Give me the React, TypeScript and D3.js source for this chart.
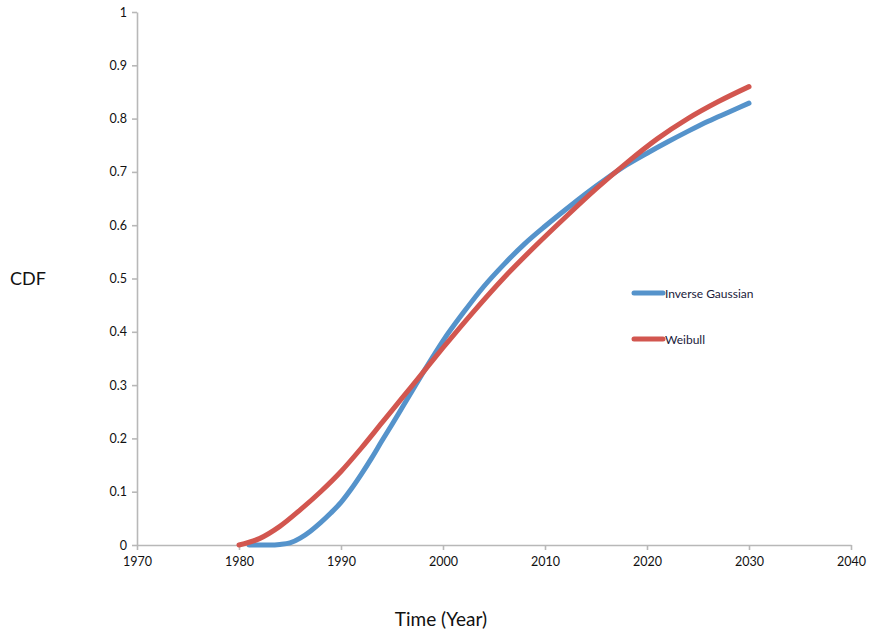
import React from 'react';
import { axisBottom, axisLeft, curveMonotoneX, line, scaleLinear, select } from 'd3';

const years = [1970, 1980, 1990, 2000, 2010, 2020, 2030, 2040];
const cdfTicks = [0, 0.1, 0.2, 0.3, 0.4, 0.5, 0.6, 0.7, 0.8, 0.9, 1];

const weibullYears = [1980, 1982, 1984, 1986, 1988, 1990, 1992, 1994, 1996, 1998, 2000, 2003, 2006, 2009, 2012, 2015, 2018, 2021, 2024, 2027, 2030];
const weibullCdf = [0, 0.012, 0.035, 0.066, 0.1, 0.138, 0.182, 0.229, 0.276, 0.323, 0.37, 0.438, 0.502, 0.56, 0.615, 0.668, 0.717, 0.762, 0.8, 0.832, 0.86];

const gaussYears = [1981, 1983, 1984, 1985, 1986, 1987, 1988, 1989, 1990, 1991, 1992, 1993, 1994, 1995, 1996, 1997, 1998, 1999, 2000, 2002, 2004, 2006, 2008, 2010, 2012, 2014, 2016, 2018, 2020, 2022, 2024, 2026, 2028, 2030];
const gaussCdf = [0, 0, 0.001, 0.004, 0.013, 0.026, 0.042, 0.06, 0.08, 0.105, 0.133, 0.163, 0.195, 0.226, 0.258, 0.29, 0.322, 0.353, 0.383, 0.436, 0.485, 0.527, 0.565, 0.598, 0.629, 0.659, 0.687, 0.713, 0.735, 0.756, 0.776, 0.795, 0.812, 0.829];

const seriesNames = ['Inverse Gaussian', 'Weibull'];
const seriesColors = ['#5593cb', '#d2564f'];

const FONT = 'Lato, "Open Sans", sans-serif';

const App = () => {
    const svgRef = React.useRef(null);
    const width = 869;
    const height = 635;
    const marginLeft = 137;
    const marginTop = 12;
    const marginRight = 18;
    const marginBottom = 90;
    const innerWidth = width - marginLeft - marginRight;
    const innerHeight = height - marginTop - marginBottom;

    React.useEffect(() => {
        const svgEl = select(svgRef.current);
        svgEl.selectAll('*').remove();

        const gEl = svgEl
            .append('g')
            .attr('transform', `translate(${marginLeft},${marginTop})`);

        const x = scaleLinear().domain([1970, 2040]).range([0, innerWidth]);
        const y = scaleLinear().domain([0, 1]).range([innerHeight, 0]);

        // X Axis
        const xAxisGroup = gEl
            .append('g')
            .attr('transform', `translate(0,${innerHeight})`)
            .call(axisBottom(x).tickValues(years).tickFormat((d) => String(d)).tickSizeInner(5).tickSizeOuter(0));
        xAxisGroup.selectAll('text')
            .attr('font-family', FONT)
            .attr('font-size', 12.5)
            .attr('fill', '#111')
            .attr('dy', '1.05em');

        // Y Axis
        const yAxisGroup = gEl
            .append('g')
            .call(axisLeft(y).tickValues(cdfTicks).tickFormat((d) => String(+d.toFixed(1))).tickSizeInner(5).tickSizeOuter(0));
        yAxisGroup.selectAll('text')
            .attr('font-family', FONT)
            .attr('font-size', 12.5)
            .attr('fill', '#111')
            .attr('x', -10);

        svgEl.selectAll('.domain, .tick line')
            .attr('stroke', '#b8b8b8')
            .attr('stroke-width', 1.6);

        // Lines
        const path = line()
            .x((d) => x(d[0]))
            .y((d) => y(d[1]))
            .curve(curveMonotoneX);

        const series = [
            gaussYears.map((yr, i) => [yr, gaussCdf[i]]),
            weibullYears.map((yr, i) => [yr, weibullCdf[i]])
        ];

        // blue drawn first, red on top
        series.forEach((pts, i) => {
            gEl.append('path')
                .datum(pts)
                .attr('fill', 'none')
                .attr('stroke', seriesColors[i])
                .attr('stroke-width', 5)
                .attr('stroke-linecap', 'round')
                .attr('d', path);
        });

        // Legend
        seriesNames.forEach((name, i) => {
            const ly = 293 + i * 46;
            svgEl.append('line')
                .attr('x1', 634).attr('x2', 663)
                .attr('y1', ly).attr('y2', ly)
                .attr('stroke', seriesColors[i])
                .attr('stroke-width', 5)
                .attr('stroke-linecap', 'round');
            svgEl.append('text')
                .attr('x', 665)
                .attr('y', ly + 4.5)
                .attr('font-family', FONT)
                .attr('font-size', 12)
                .attr('fill', '#1a1a3a')
                .text(name);
        });

        // Axis titles
        svgEl.append('text')
            .attr('x', 10)
            .attr('y', 285)
            .attr('font-family', FONT)
            .attr('font-size', 18)
            .attr('fill', '#111')
            .text('CDF');

        svgEl.append('text')
            .attr('x', 441)
            .attr('y', 626)
            .attr('text-anchor', 'middle')
            .attr('font-family', FONT)
            .attr('font-size', 19)
            .attr('fill', '#111')
            .text('Time (Year)');
    }, []);

    return (
        <svg
            ref={svgRef}
            width={width}
            height={height}
            style={{ position: 'absolute', left: 0, top: 0, background: '#fff' }}
        />
    );
};

export default App;
